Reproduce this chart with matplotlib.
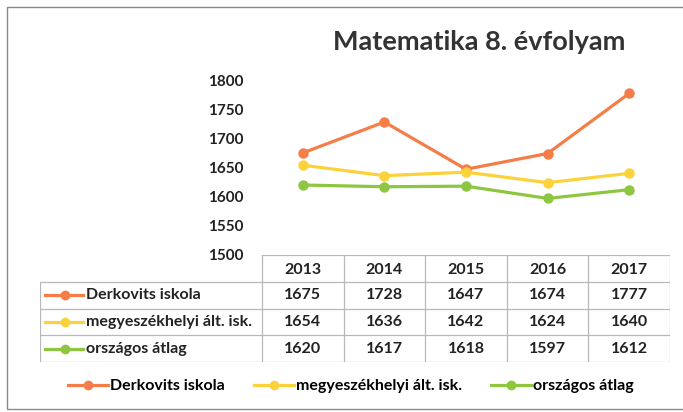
"""Matematika 8. évfolyam: vonaldiagram adattáblával (Excel-stílus)."""

import matplotlib

matplotlib.use("Agg")
from matplotlib import pyplot as plt
from matplotlib.lines import Line2D
from matplotlib.patches import Rectangle

YEARS = ["2013", "2014", "2015", "2016", "2017"]
SERIES_NAMES = ["Derkovits iskola", "megyeszékhelyi ált. isk.", "országos átlag"]
DERKOVITS = [1675, 1728, 1647, 1674, 1777]
MEGYE = [1654, 1636, 1642, 1624, 1640]
ORSZAGOS = [1620, 1617, 1618, 1597, 1612]
Y_TICKS = [1500, 1550, 1600, 1650, 1700, 1750, 1800]

COLORS = ["#f47d48", "#fcd23a", "#8dc641"]
GRID = "#b8b8b8"
TEXT = "#222222"
FS = 11.5

plt.rcParams["font.family"] = ["Lato", "DejaVu Sans"]
plt.rcParams["font.weight"] = "bold"

W, H = 683, 412


def fx(px: float) -> float:
    return px / W


def fy(px: float) -> float:
    return 1 - px / H


figure = plt.figure(figsize=(W / 100, H / 100), dpi=100)
figure.patches.append(
    Rectangle((fx(7), fy(409)), fx(700), fy(7) - fy(409), transform=figure.transFigure,
              fill=False, edgecolor="#8a8a8a", linewidth=1.0)
)

# plot area
axis = figure.add_axes((fx(262), fy(255), fx(670) - fx(262), fy(80) - fy(255)))
series = (DERKOVITS, MEGYE, ORSZAGOS)
x = range(len(YEARS))
for values, color, name in zip(series, COLORS, SERIES_NAMES, strict=True):
    axis.plot(x, values, color=color, linewidth=2.3, marker="o", markersize=6.5, label=name)
axis.set_xlim(-0.5, len(YEARS) - 0.5)
axis.set_ylim(Y_TICKS[0], Y_TICKS[-1])
axis.set_yticks(Y_TICKS)
axis.set_yticklabels([str(v) for v in Y_TICKS], fontsize=11, color=TEXT, fontweight="bold")
axis.set_xticks([])
axis.tick_params(axis="y", length=0, pad=13)
for spine in axis.spines.values():
    spine.set_visible(False)

figure.text(fx(479), fy(42), "Matematika 8. évfolyam", ha="center", va="center",
            fontsize=19.5, fontweight="bold", color="#333333")

# data table below the plot area
col_px = (670 - 262) / len(YEARS)
label_cols = (262 - 40) / col_px
table = figure.add_axes((fx(40), fy(362), fx(670) - fx(40), fy(255) - fy(362)))
n_rows = len(SERIES_NAMES) + 1
left = -0.5 - label_cols
right = len(YEARS) - 0.5
table.set_xlim(left, right)
table.set_ylim(n_rows, 0)
table.axis("off")
table.plot([-0.5, right], [0, 0], color=GRID, linewidth=0.9)
for r in range(1, n_rows + 1):
    table.plot([left, right], [r, r], color=GRID, linewidth=0.9)
table.plot([left, left], [1, n_rows], color=GRID, linewidth=0.9)
for c in range(len(YEARS) + 1):
    table.plot([c - 0.5, c - 0.5], [0, n_rows], color=GRID, linewidth=0.9)

for c, year in enumerate(YEARS):
    table.text(c, 0.55, year, ha="center", va="center", fontsize=FS,
               fontweight="bold", color=TEXT)
for r, (values, color, name) in enumerate(zip(series, COLORS, SERIES_NAMES, strict=True), 1):
    y = r + 0.5
    table.plot([left + 5 / col_px, left + 43 / col_px], [y, y], color=color, linewidth=2.3)
    table.plot([left + 25 / col_px], [y], color=color, marker="o", markersize=6)
    table.text(left + 46 / col_px, y, name, ha="left", va="center", fontsize=FS,
               fontweight="bold", color=TEXT)
    for c, value in enumerate(values):
        table.text(c, y, str(value), ha="center", va="center", fontsize=FS,
                   fontweight="bold", color=TEXT)

handles = [
    Line2D([], [], color=color, linewidth=2.3, marker="o", markersize=6)
    for color in COLORS
]
figure.legend(handles, SERIES_NAMES, loc="center", bbox_to_anchor=(fx(351), fy(386)),
              ncol=3, frameon=False, handlelength=2.5, handletextpad=0.15,
              columnspacing=1.8, prop={"weight": "bold", "size": FS})

figure.savefig("out.png", dpi=100)
plt.close(figure)
